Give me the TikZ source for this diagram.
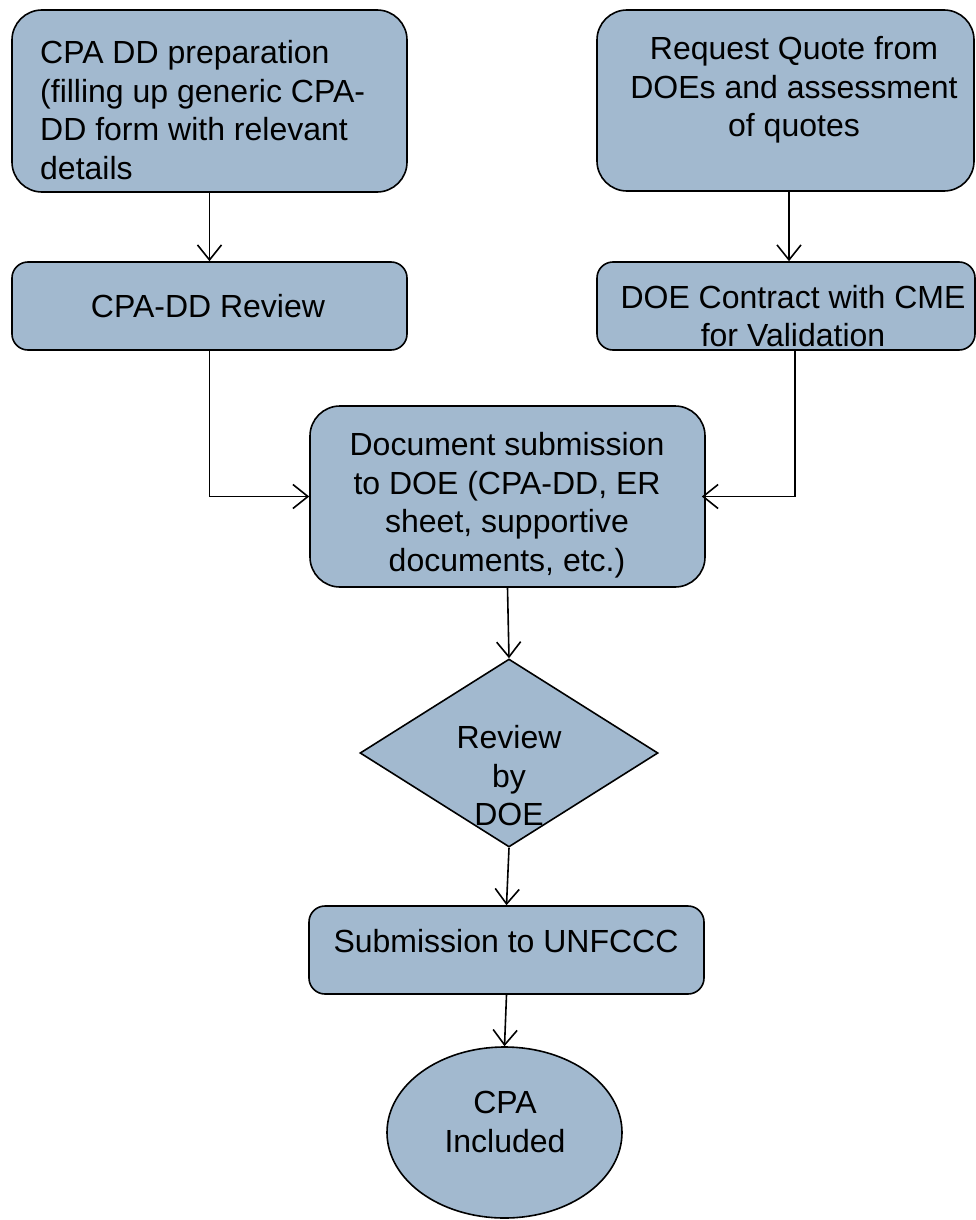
\documentclass[tikz,border=0pt]{standalone}
\usepackage{fontspec}
\setmainfont{Liberation Sans}
\usetikzlibrary{shapes.geometric,arrows.meta,calc}
\definecolor{boxfill}{RGB}{162,185,207}
\begin{document}
\begin{tikzpicture}[x=1pt,y=-1pt,
  every node/.style={font=\fontsize{32}{38.5}\selectfont},
  shp/.style={draw=black, line width=1.6pt, fill=boxfill, inner sep=0pt},
  rbox/.style={shp, rectangle, rounded corners=#1},
  txt/.style={align=center, inner sep=0pt},
  arr/.style={draw=black, line width=1.6pt, -{Straight Barb[length=15pt,width=24pt,line width=1.6pt]}}]
\useasboundingbox (0,0) rectangle (976,1220);

% shapes
\node[rbox=30, minimum width=395, minimum height=182] (b1) at (209.5,101) {};
\node[rbox=30, minimum width=377, minimum height=181] (b2) at (785.5,100.5) {};
\node[rbox=16, minimum width=395, minimum height=88] (b3) at (209.5,306) {};
\node[rbox=16, minimum width=378, minimum height=88] (b4) at (786,306) {};
\node[rbox=30, minimum width=395, minimum height=181] (b5) at (507.5,496.5) {};
\node[shp, diamond, aspect=1.585, minimum width=298, minimum height=188] (dia) at (509,753) {};
\node[rbox=16, minimum width=395, minimum height=88] (b7) at (506.5,950) {};
\node[shp, ellipse, minimum width=235, minimum height=171] (ell) at (504.5,1132.5) {};

% texts
\node[txt, align=left, anchor=west] (t1) at (40,110) {CPA DD preparation\\(filling up generic CPA-\\DD form with relevant\\details};
\node[txt] (t2) at (794,90) {Request Quote from\\DOEs and assessment\\of quotes};
\node[txt] (t3) at (208,306) {CPA-DD Review};
\node[txt] (t4) at (793,316) {DOE Contract with CME\\for Validation};
\node[txt] (t5) at (507,505) {Document submission\\to DOE (CPA-DD, ER\\sheet, supportive\\documents, etc.)};
\node[txt] (t6) at (509,776) {Review\\by\\DOE};
\node[txt] (t7) at (506,941) {Submission to UNFCCC};
\node[txt] (t8) at (505,1122) {CPA\\Included};

% connectors
\draw[arr] (b1.south) -- (b3.north);
\draw[arr] ([xshift=3.5pt]b2.south) -- ([xshift=3pt]b4.north);
\draw[arr] (b3.south) |- (b5.west);
\draw[arr] ([xshift=9pt]b4.south) |- ([xshift=-4pt]b5.east);
\draw[arr] (b5.south) -- (dia.north);
\draw[arr] (dia.south) -- (b7.north);
\draw[arr] (b7.south) -- (ell.north);
\end{tikzpicture}
\end{document}
